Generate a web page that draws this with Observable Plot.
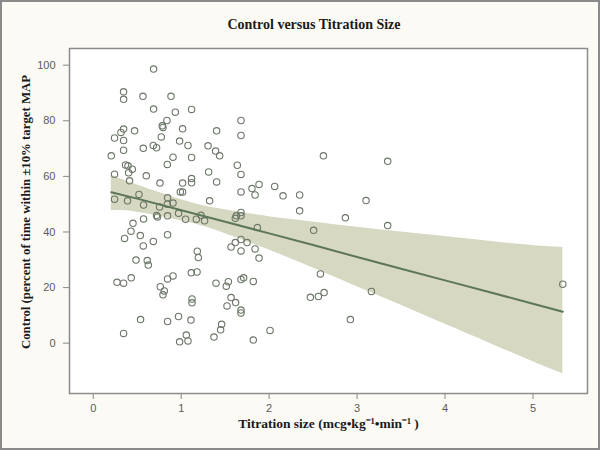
<!DOCTYPE html>
<html>
<head>
<meta charset="utf-8">
<script src="https://cdn.jsdelivr.net/npm/d3@7"></script>
<script src="https://cdn.jsdelivr.net/npm/@observablehq/plot@0.6"></script>
<style>
  html, body { margin: 0; padding: 0; background: #fcfaf5; }
  #wrap { width: 600px; height: 450px; box-sizing: border-box; border: 2px solid #8a8a8a; background: #fcfaf5; overflow: hidden; }
  #title { height: 45px; display: flex; align-items: center; justify-content: center; padding-left: 28px; box-sizing: border-box;
           font: bold 14px "Liberation Serif", "Times New Roman", serif; color: #1a1a1a; }
  svg { display: block; }
</style>
</head>
<body>
<div id="wrap">
  <div id="title">Control versus Titration Size</div>
  <div id="chart"></div>
</div>
<script>
const xLabel = "Titration size (mcg•kg⁻¹•min⁻¹ )";
const yLabel = "Control (percent of time within ±10% target MAP";
const xTicks = [0, 1, 2, 3, 4, 5];
const yTicks = [0, 20, 40, 60, 80, 100];

// titration size (mcg/kg/min)
const titration = [
  0.686,0.345,0.345,0.565,0.884,0.686,0.933,1.118,0.838,0.785,
  0.793,1.016,0.345,0.315,0.470,0.242,0.345,0.774,0.982,1.077,
  0.683,0.720,0.569,0.345,0.205,0.907,1.118,0.842,0.367,0.395,
  0.444,0.402,0.242,0.603,0.413,0.759,1.118,1.118,1.016,0.990,
  1.016,0.520,0.242,0.390,0.845,1.305,1.312,1.323,1.680,1.403,
  1.680,1.391,1.437,2.617,3.348,1.638,1.680,1.403,1.885,1.805,
  2.063,1.680,1.840,2.158,2.347,3.102,1.225,1.266,2.347,1.680,
  1.627,1.680,1.615,2.867,3.348,1.866,2.506,1.680,1.615,1.749,
  1.567,1.680,1.840,1.885,2.583,1.396,1.536,1.513,1.680,1.710,
  1.820,3.163,1.567,1.619,1.521,1.680,1.680,2.469,2.560,2.625,
  2.924,1.460,1.448,1.373,2.010,1.820,5.339,0.572,0.754,0.842,
  0.907,0.720,0.731,0.845,0.572,0.970,1.050,1.172,0.452,0.429,
  0.356,0.535,0.569,0.683,0.845,1.183,1.195,0.486,0.614,0.626,
  1.115,1.180,0.270,0.345,0.432,0.845,0.907,0.762,0.808,0.793,
  1.123,1.123,0.538,0.845,0.970,1.111,0.345,1.058,0.982,1.077
];
// percent of time within ±10% target MAP
const control = [
  98.6,90.4,87.7,88.8,88.8,84.2,83.1,84.1,80.1,78.2,
  77.6,77.1,77.0,75.8,76.4,73.8,72.9,74.2,72.7,71.1,
  71.1,70.3,70.1,69.4,67.4,66.9,66.8,64.3,64.1,63.8,
  62.6,61.3,60.8,60.2,58.4,57.6,59.2,57.7,57.6,54.4,
  54.4,53.5,51.8,51.2,52.3,71.0,61.6,51.2,80.1,76.4,
  74.7,69.1,67.4,67.4,65.4,64.0,60.7,58.0,57.1,55.6,
  56.4,54.4,53.3,53.0,53.3,51.3,46.0,44.0,47.6,47.0,
  45.8,45.8,44.9,45.1,42.3,41.6,40.6,37.3,36.2,36.2,
  34.6,33.2,33.9,30.6,24.9,21.6,22.1,20.5,22.9,23.5,
  22.2,18.6,16.4,14.6,13.4,11.9,10.9,16.5,16.8,18.2,
  8.5,6.8,4.8,2.2,4.6,1.1,21.2,49.7,49.0,50.0,
  50.4,45.9,45.4,45.8,44.7,46.7,44.6,44.6,43.1,40.3,
  37.7,38.7,35.0,36.6,39.0,33.1,30.8,29.9,29.7,28.1,
  25.3,25.6,21.9,21.6,23.5,23.1,24.2,20.3,18.8,17.4,
  15.9,14.5,8.5,7.8,9.6,8.3,3.5,2.9,0.5,0.8
];

// fitted line and 95% confidence band
const bandX  = [0.205, 0.5, 1.1, 1.5, 2, 2.5, 3, 3.5, 4, 4.5, 5, 5.339];
const fitY   = [54.3, 52.0, 47.0, 43.7, 39.5, 35.3, 31.0, 26.8, 22.6, 18.4, 14.2, 11.3];
const bandLo = [47.6, 47.1, 43.3, 39.4, 33.5, 27.0, 20.3, 13.6, 6.8, 0.1, -6.7, -11.0];
const bandHi = [60.4, 56.9, 50.7, 48.0, 45.5, 43.6, 41.7, 40.0, 38.4, 36.7, 35.1, 34.4];

const data = titration.map((t, i) => ({titration: t, control: control[i]}));
const fit = bandX.map((x, i) => ({x, y: fitY[i], lo: bandLo[i], hi: bandHi[i]}));

const tickFont = '"Liberation Sans", Arial, sans-serif';
const labelFont = '"Liberation Serif", "Times New Roman", serif';

const chart = Plot.plot({
  width: 596,
  height: 401,
  marginLeft: 67,
  marginRight: 11,
  marginTop: 1,
  marginBottom: 55,
  style: {background: "transparent", fontFamily: tickFont, fontSize: "11px", color: "#555"},
  x: {domain: [-0.27, 5.62]},
  y: {domain: [-18.1, 106]},
  marks: [
    Plot.frame({fill: "white"}),
    Plot.areaY(fit, {x: "x", y1: "lo", y2: "hi", fill: "#d7d8c2", fillOpacity: 1, curve: "natural"}),
    Plot.dot(data, {x: "titration", y: "control", r: 3.2, stroke: "#6b7768", strokeWidth: 1.1, fill: "none"}),
    Plot.line(fit, {x: "x", y: "y", stroke: "#5d7657", strokeWidth: 2}),
    Plot.frame({stroke: "#8c8c8c", strokeWidth: 1.5}),
    Plot.axisX({ticks: xTicks, tickFormat: d => String(d), tickSize: 6, tickPadding: 5, label: null, stroke: "#888", fill: "#5a5a5a", fontSize: 11}),
    Plot.axisY({ticks: yTicks, tickFormat: d => String(d), tickSize: 6, tickPadding: 8, label: null, stroke: "#888", fill: "#5a5a5a", fontSize: 11}),
    Plot.text([xLabel], {frameAnchor: "bottom", dy: 34, text: d => d, textAnchor: "middle", fontFamily: labelFont, fontWeight: "bold", fontSize: 13.5, fill: "#1a1a1a"}),
    Plot.text([yLabel], {frameAnchor: "left", dx: -44, dy: -9, rotate: -90, text: d => d, textAnchor: "middle", fontFamily: labelFont, fontWeight: "bold", fontSize: 12.8, fill: "#1a1a1a"})
  ]
});
document.getElementById("chart").appendChild(chart);
</script>
</body>
</html>
